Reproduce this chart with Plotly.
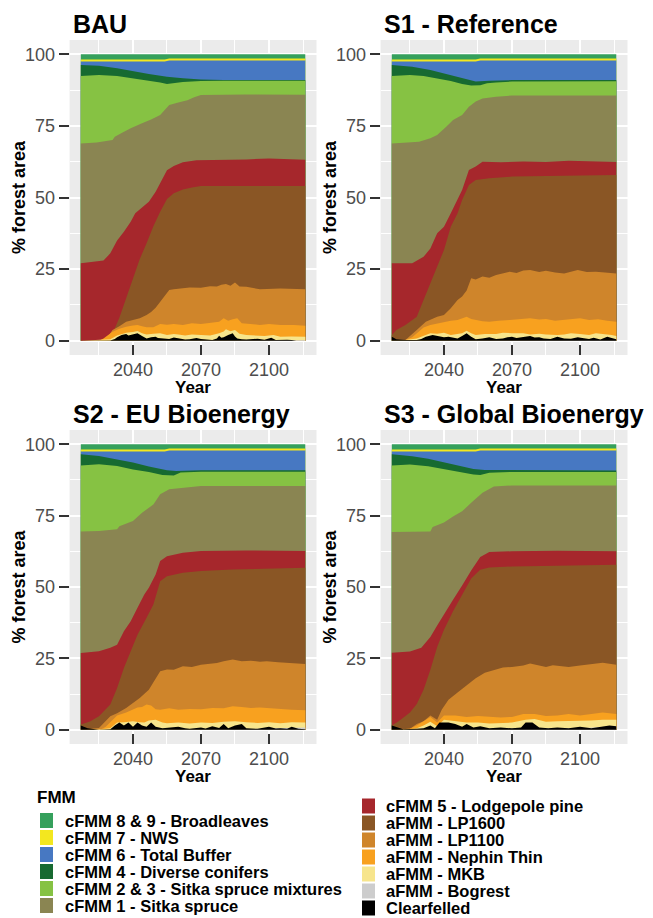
import plotly.graph_objects as go

# ---------------- data ----------------
SERIES = ["cFMM 8 & 9 - Broadleaves", "cFMM 7 - NWS", "cFMM 6 - Total Buffer",
          "cFMM 4 - Diverse conifers", "cFMM 2 & 3 - Sitka spruce mixtures",
          "cFMM 1 - Sitka spruce", "cFMM 5 - Lodgepole pine", "aFMM - LP1600",
          "aFMM - LP1100", "aFMM - Nephin Thin", "aFMM - MKB", "aFMM - Bogrest",
          "Clearfelled"]
COLORS = ["#35A05C", "#F3E71F", "#4778C2", "#176A31", "#86C243", "#8A8552",
          "#A6272C", "#8A5625", "#CF852B", "#F8A11F", "#F7E58C", "#CDCDCD", "#000000"]
SCENARIOS = ["BAU", "S1 - Reference", "S2 - EU Bioenergy", "S3 - Global Bioenergy"]
X_TICKS = [2040, 2070, 2100]
Y_TICKS = [0, 25, 50, 75, 100]

# cumulative top (% forest area) of each stacked layer, as (year, value)
BROAD_TOP = [(2017, 100), (2116, 100)]
NWS_TOP = [(2017, 98.2), (2054, 98.2), (2056, 98.5), (2116, 98.5)]
BUFFER_TOP = [(2017, 97.5), (2054, 97.5), (2056, 97.8), (2116, 97.8)]

BAU_DIVERSE = [(2017, 96.3), (2025, 96.0), (2033, 95.1), (2040, 94.0), (2047, 93.1), (2055, 92.2),
               (2062, 91.6), (2070, 91.2), (2080, 91.0), (2116, 91.0)]
BAU_MIXTURES = [(2017, 92.4), (2025, 92.8), (2033, 92.4), (2040, 91.6), (2047, 91.0), (2052, 90.2),
                (2055, 89.6), (2058, 89.9), (2062, 90.3), (2070, 90.7), (2080, 90.8), (2116, 90.8)]
BAU_SITKA = [(2017, 68.9), (2024, 69.2), (2031, 70.1), (2032, 71.2), (2035, 72.5), (2039, 74.2),
             (2044, 75.9), (2048, 77.2), (2052, 78.8), (2054, 80.5), (2056, 82.3), (2060, 83.2),
             (2064, 84.0), (2067, 85.0), (2070, 85.8), (2090, 86.0), (2116, 85.9)]
BAU_LODGE = [(2017, 27.0), (2027, 28.0), (2030, 30.5), (2033, 35.0), (2036, 38.0), (2039, 41.5),
             (2041, 44.5), (2044, 46.5), (2047, 48.5), (2050, 52.0), (2053, 56.5), (2055, 59.5),
             (2058, 61.0), (2062, 62.3), (2068, 63.0), (2080, 63.1), (2090, 63.3), (2100, 63.6),
             (2116, 63.2)]
BAU_LP1600 = [(2017, 0), (2026, 0), (2029, 0.5), (2031, 2.5), (2034, 8), (2037, 15), (2040, 22),
              (2043, 28.5), (2046, 34), (2049, 40), (2052, 45), (2055, 49.5), (2058, 51.5),
              (2062, 52.8), (2066, 53.5), (2070, 54.0), (2116, 54.0)]
BAU_LP1100 = [(2017, 0), (2026, 0), (2029, 1.5), (2031, 3.7), (2034, 5.0), (2037, 6.6), (2040, 7.2),
              (2043, 7.8), (2046, 9.0), (2048, 10.0), (2050, 11.5), (2052, 13.6), (2054, 15.8),
              (2056, 17.7), (2058, 18.0), (2061, 18.3), (2065, 18.6), (2070, 18.5), (2074, 19.0),
              (2077, 18.9), (2079, 19.5), (2081, 19.8), (2083, 19.2), (2085, 20.3), (2087, 18.9),
              (2090, 18.8), (2096, 18.0), (2105, 18.2), (2116, 18.0)]
BAU_NEPHIN = [(2017, 0), (2025, 0), (2027, 0.8), (2029, 2.0), (2031, 3.1), (2034, 4.2), (2037, 4.9),
              (2040, 5.3), (2042, 5.5), (2044, 5.0), (2046, 4.7), (2049, 4.7), (2052, 5.8), (2055, 5.6),
              (2058, 5.8), (2062, 5.5), (2066, 6.1), (2070, 5.8), (2074, 6.2), (2078, 6.6), (2080, 7.8),
              (2082, 7.0), (2084, 7.5), (2086, 7.8), (2088, 6.1), (2092, 5.8), (2096, 5.5), (2100, 5.8),
              (2105, 5.5), (2111, 5.5), (2116, 5.2)]
BAU_MKB = [(2017, 0), (2027, 0.2), (2030, 0.5), (2033, 1.8), (2035, 2.4), (2037, 2.8), (2040, 3.0),
           (2042, 3.4), (2044, 2.6), (2046, 2.2), (2049, 2.4), (2052, 2.6), (2055, 2.0), (2058, 2.3),
           (2060, 2.2), (2063, 1.8), (2066, 2.2), (2070, 2.0), (2074, 1.8), (2078, 2.6), (2080, 3.2),
           (2081, 4.0), (2083, 3.3), (2085, 3.7), (2087, 2.4), (2090, 2.0), (2094, 1.8), (2098, 1.6),
           (2102, 2.0), (2105, 1.4), (2110, 1.5), (2116, 1.4)]
BAU_BOGREST = [(2017, 0.0), (2116, 0.2)]
BAU_CLEAR = [(2017, 0.0), (2030, 0.1), (2032, 0.6), (2033, 1.2), (2035, 2.0), (2037, 2.3), (2038, 1.8),
             (2040, 2.2), (2042, 2.6), (2044, 1.6), (2046, 0.8), (2048, 1.2), (2050, 1.4), (2051, 0.9),
             (2053, 0.8), (2056, 0.6), (2058, 1.1), (2060, 0.8), (2063, 0.4), (2065, 0.5), (2068, 0.9),
             (2070, 0.6), (2073, 0.3), (2075, 0.2), (2077, 0.8), (2078, 1.7), (2079, 1.0), (2080, 1.2),
             (2082, 2.0), (2084, 2.6), (2085, 1.5), (2086, 0.8), (2088, 0.5), (2090, 0.4), (2093, 0.6),
             (2095, 0.7), (2098, 0.3), (2100, 0.7), (2101, 1.0), (2103, 0.2), (2106, 0.4), (2108, 0.3),
             (2110, 0.2), (2112, 0.0), (2116, 0.0)]

S1_DIVERSE = [(2017, 96.3), (2026, 95.7), (2034, 94.5), (2041, 93.1), (2048, 91.6), (2054, 90.5),
              (2060, 90.8), (2070, 91.0), (2116, 91.0)]
S1_MIXTURES = [(2017, 92.4), (2025, 92.8), (2031, 92.4), (2037, 91.6), (2043, 90.7), (2048, 89.6),
               (2052, 89.1), (2056, 89.2), (2059, 89.9), (2063, 90.2), (2070, 90.5), (2116, 90.6)]
S1_SITKA = [(2017, 68.9), (2029, 69.5), (2034, 70.7), (2037, 71.8), (2041, 74.7), (2044, 77.1),
            (2048, 78.8), (2051, 81.7), (2054, 83.5), (2057, 84.6), (2063, 85.2), (2070, 85.6),
            (2116, 85.6)]
S1_LODGE = [(2017, 27.0), (2026, 27.0), (2031, 29.3), (2034, 32.2), (2037, 37.5), (2040, 39.8),
            (2043, 44.5), (2046, 49.1), (2048, 52.6), (2051, 59.6), (2054, 60.8), (2057, 62.5),
            (2065, 62.3), (2075, 62.6), (2085, 62.4), (2095, 62.8), (2105, 62.5), (2116, 62.4)]
S1_LP1600 = [(2017, 2.0), (2019, 3.7), (2023, 5.5), (2028, 8.4), (2031, 14.2), (2034, 20.0),
             (2037, 25.8), (2040, 31.7), (2043, 39.8), (2046, 44.5), (2048, 49.1), (2051, 54.4),
             (2054, 56.1), (2060, 56.7), (2070, 57.3), (2085, 57.5), (2100, 57.7), (2116, 57.9)]
S1_LP1100 = [(2017, 0), (2023, 0.2), (2028, 3.7), (2032, 6.6), (2037, 8.4), (2040, 9.0), (2043, 11.3),
             (2046, 14.2), (2048, 15.4), (2050, 17.5), (2052, 21.8), (2054, 21.4), (2057, 22.4),
             (2060, 22.0), (2063, 22.9), (2066, 23.5), (2069, 24.1), (2072, 23.6), (2075, 24.5),
             (2078, 24.7), (2082, 24.0), (2085, 24.4), (2089, 23.8), (2093, 23.5), (2096, 24.2),
             (2099, 24.7), (2103, 24.0), (2107, 24.1), (2111, 23.8), (2116, 23.5)]
S1_NEPHIN = [(2017, 0), (2023, 0.2), (2026, 1.2), (2028, 2.5), (2031, 4.6), (2034, 5.5), (2037, 6.0),
             (2040, 6.6), (2043, 7.0), (2046, 7.2), (2048, 7.8), (2050, 8.4), (2052, 7.6), (2054, 7.2),
             (2057, 6.8), (2060, 6.6), (2064, 7.0), (2069, 7.2), (2074, 7.5), (2078, 7.8), (2082, 7.4),
             (2085, 7.6), (2089, 7.0), (2093, 7.2), (2097, 7.6), (2100, 7.8), (2104, 7.2), (2108, 7.5),
             (2112, 7.0), (2116, 6.6)]
S1_MKB = [(2017, 0.3), (2023, 0.2), (2028, 0.8), (2031, 1.8), (2034, 2.6), (2037, 2.4), (2040, 2.8),
          (2043, 2.0), (2046, 2.4), (2048, 2.6), (2050, 3.5), (2052, 2.6), (2054, 2.0), (2058, 2.3),
          (2063, 2.3), (2066, 2.8), (2070, 2.6), (2075, 2.6), (2078, 2.2), (2082, 2.4), (2085, 2.2),
          (2090, 2.0), (2093, 2.2), (2096, 2.6), (2100, 2.3), (2104, 2.0), (2107, 2.6), (2111, 2.4),
          (2114, 2.0), (2116, 1.6)]
S1_BOGREST = [(2017, 0.0), (2100, 0.2), (2116, 0.5)]
S1_CLEAR = [(2017, 1.4), (2018, 1.0), (2019, 0.5), (2023, 0.2), (2028, 0.2), (2030, 0.6), (2032, 1.4),
            (2035, 2.0), (2037, 1.6), (2040, 1.2), (2042, 1.4), (2044, 1.0), (2046, 0.8), (2048, 1.6),
            (2050, 2.6), (2052, 1.4), (2054, 0.5), (2057, 0.8), (2060, 1.2), (2063, 0.6), (2066, 0.8),
            (2068, 1.2), (2070, 1.4), (2072, 0.9), (2075, 1.2), (2078, 1.6), (2080, 1.1), (2082, 1.2),
            (2084, 0.8), (2087, 0.6), (2090, 1.4), (2093, 0.8), (2096, 0.7), (2099, 1.2), (2101, 0.9),
            (2104, 0.6), (2106, 1.0), (2109, 0.4), (2112, 1.4), (2114, 1.0), (2116, 0.5)]

S2_DIVERSE = [(2017, 96.5), (2025, 95.9), (2033, 94.7), (2040, 93.6), (2047, 92.2), (2055, 90.9),
              (2059, 90.6), (2070, 90.9), (2116, 90.9)]
S2_MIXTURES = [(2017, 92.6), (2025, 93.0), (2033, 92.4), (2040, 91.2), (2047, 90.3), (2053, 89.2),
               (2058, 89.1), (2061, 90.1), (2070, 90.4), (2116, 90.4)]
S2_SITKA = [(2017, 69.4), (2025, 69.6), (2033, 70.2), (2034, 71.3), (2040, 73.1), (2044, 76.0),
            (2049, 78.9), (2052, 82.5), (2056, 84.2), (2062, 84.8), (2070, 85.4), (2116, 85.4)]
S2_LODGE = [(2017, 26.9), (2025, 27.5), (2030, 28.7), (2033, 29.8), (2036, 34.5), (2039, 38.0),
            (2042, 42.7), (2045, 47.4), (2047, 49.7), (2050, 54.4), (2052, 59.1), (2055, 60.8),
            (2062, 62.0), (2070, 62.6), (2090, 62.8), (2116, 62.6)]
S2_LP1600 = [(2017, 1.8), (2021, 2.9), (2025, 4.7), (2030, 8.8), (2033, 14.6), (2036, 21.6),
             (2039, 27.5), (2042, 33.3), (2046, 39.2), (2049, 43.9), (2052, 52.0), (2055, 53.8),
             (2062, 55.0), (2070, 55.6), (2084, 56.1), (2116, 56.7)]
S2_LP1100 = [(2017, 0), (2025, 0.6), (2030, 4.7), (2033, 5.8), (2037, 7.6), (2040, 9.4), (2043, 11.1),
             (2047, 14.0), (2050, 18.1), (2052, 20.5), (2055, 21.1), (2058, 21.0), (2062, 22.2),
             (2066, 22.0), (2070, 22.8), (2074, 23.2), (2077, 23.4), (2080, 24.0), (2084, 24.6),
             (2088, 24.0), (2092, 24.2), (2096, 23.8), (2099, 24.0), (2104, 23.6), (2108, 23.4),
             (2112, 23.2), (2116, 23.0)]
S2_NEPHIN = [(2017, 0), (2026, 0.2), (2028, 1.0), (2030, 2.5), (2033, 5.0), (2037, 6.0), (2040, 7.0),
             (2042, 7.8), (2044, 8.0), (2046, 8.8), (2048, 8.5), (2050, 7.2), (2052, 7.0), (2056, 7.5),
             (2060, 7.0), (2065, 7.3), (2070, 7.2), (2075, 7.6), (2080, 7.5), (2084, 8.2), (2088, 8.0),
             (2092, 7.6), (2096, 7.8), (2100, 7.5), (2105, 7.2), (2110, 7.0), (2116, 6.8)]
S2_MKB = [(2017, 0.2), (2026, 0.2), (2030, 0.5), (2033, 2.5), (2036, 2.6), (2040, 3.0), (2043, 2.6),
          (2045, 2.5), (2047, 3.2), (2050, 3.5), (2053, 2.5), (2055, 2.3), (2060, 2.5), (2065, 2.2),
          (2070, 2.5), (2075, 2.4), (2080, 2.8), (2085, 3.0), (2090, 2.6), (2095, 2.4), (2100, 2.6),
          (2105, 2.3), (2110, 2.6), (2116, 2.5)]
S2_BOGREST = [(2017, 0.0), (2095, 0.3), (2116, 0.8)]
S2_CLEAR = [(2017, 1.5), (2019, 1.0), (2020, 0.5), (2025, 0.0), (2030, 0.2), (2032, 1.5), (2034, 2.5),
            (2036, 1.5), (2038, 2.5), (2040, 1.0), (2042, 2.5), (2044, 1.5), (2046, 1.0), (2048, 2.5),
            (2050, 1.0), (2053, 0.5), (2056, 0.8), (2060, 1.0), (2063, 0.5), (2065, 0.3), (2070, 0.8),
            (2072, 0.4), (2075, 1.2), (2078, 0.6), (2080, 2.0), (2082, 0.5), (2085, 1.5), (2088, 2.0),
            (2090, 0.5), (2095, 0.3), (2100, 1.0), (2103, 0.4), (2105, 0.5), (2108, 0.3), (2110, 1.0),
            (2113, 0.3), (2116, 0.2)]

S3_DIVERSE = [(2017, 96.5), (2026, 95.8), (2033, 94.9), (2040, 93.7), (2047, 92.5), (2053, 91.3),
              (2058, 91.0), (2116, 90.8)]
S3_MIXTURES = [(2017, 92.6), (2025, 92.9), (2033, 92.3), (2040, 91.3), (2047, 90.2), (2053, 89.4),
               (2056, 89.2), (2060, 90.0), (2070, 90.3), (2116, 90.3)]
S3_SITKA = [(2017, 69.3), (2034, 69.4), (2035, 71.0), (2040, 72.6), (2044, 74.7), (2048, 76.5),
            (2052, 79.5), (2057, 83.0), (2062, 85.2), (2070, 85.6), (2116, 85.6)]
S3_LODGE = [(2017, 27.0), (2025, 27.4), (2030, 28.7), (2034, 32.5), (2037, 36.5), (2040, 40.5),
            (2044, 45.5), (2048, 50.5), (2052, 55.8), (2056, 60.5), (2060, 62.3), (2070, 62.5),
            (2090, 62.7), (2116, 62.5)]
S3_LP1600 = [(2017, 1.5), (2020, 3.0), (2025, 6.0), (2028, 9.0), (2031, 14.0), (2034, 21.0),
             (2037, 29.0), (2040, 35.0), (2044, 41.5), (2048, 47.5), (2052, 53.0), (2056, 56.0),
             (2060, 56.8), (2070, 57.2), (2090, 57.5), (2116, 57.8)]
S3_LP1100 = [(2017, 0), (2025, 0.3), (2028, 2.0), (2031, 3.0), (2034, 5.0), (2036, 4.0), (2037, 3.5),
             (2039, 7.0), (2042, 10.5), (2046, 13.0), (2050, 15.5), (2054, 18.0), (2058, 20.0),
             (2062, 21.0), (2066, 21.8), (2070, 22.0), (2075, 22.5), (2078, 23.2), (2080, 22.8),
             (2085, 22.0), (2088, 22.6), (2090, 22.5), (2095, 22.0), (2100, 22.5), (2105, 23.0),
             (2110, 23.5), (2116, 22.8)]
S3_NEPHIN = [(2017, 0), (2025, 0.3), (2028, 1.5), (2031, 3.0), (2034, 4.5), (2037, 2.5), (2040, 5.0),
             (2045, 5.0), (2050, 4.5), (2055, 4.8), (2060, 4.5), (2065, 4.3), (2070, 4.5), (2075, 5.5),
             (2080, 5.5), (2085, 4.8), (2090, 5.0), (2095, 5.5), (2100, 5.0), (2105, 5.5), (2110, 6.0),
             (2116, 5.5)]
S3_MKB = [(2017, 0.2), (2025, 0.2), (2028, 0.5), (2031, 1.5), (2034, 2.8), (2037, 1.2), (2040, 3.5),
          (2045, 3.0), (2050, 2.5), (2055, 2.5), (2060, 2.2), (2070, 2.5), (2076, 3.5), (2080, 3.8),
          (2085, 2.8), (2090, 3.0), (2100, 3.0), (2105, 3.2), (2110, 3.5), (2116, 3.5)]
S3_BOGREST = [(2017, 0.0), (2100, 0.5), (2116, 1.2)]
S3_CLEAR = [(2017, 1.5), (2019, 1.0), (2022, 0.2), (2028, 0.3), (2031, 0.5), (2034, 1.5), (2036, 0.5),
            (2038, 2.5), (2042, 2.5), (2045, 2.0), (2048, 1.0), (2050, 2.0), (2053, 0.8), (2056, 1.2),
            (2060, 0.5), (2065, 0.8), (2070, 0.5), (2074, 0.8), (2076, 2.5), (2079, 2.5), (2082, 0.8),
            (2086, 0.5), (2090, 0.8), (2095, 0.5), (2100, 1.0), (2105, 0.5), (2110, 1.0), (2113, 1.5),
            (2116, 1.2)]

BAU_LAYERS = [BROAD_TOP, NWS_TOP, BUFFER_TOP, BAU_DIVERSE, BAU_MIXTURES, BAU_SITKA, BAU_LODGE,
              BAU_LP1600, BAU_LP1100, BAU_NEPHIN, BAU_MKB, BAU_BOGREST, BAU_CLEAR]
S1_LAYERS = [BROAD_TOP, NWS_TOP, BUFFER_TOP, S1_DIVERSE, S1_MIXTURES, S1_SITKA, S1_LODGE,
             S1_LP1600, S1_LP1100, S1_NEPHIN, S1_MKB, S1_BOGREST, S1_CLEAR]
S2_LAYERS = [BROAD_TOP, NWS_TOP, BUFFER_TOP, S2_DIVERSE, S2_MIXTURES, S2_SITKA, S2_LODGE,
             S2_LP1600, S2_LP1100, S2_NEPHIN, S2_MKB, S2_BOGREST, S2_CLEAR]
S3_LAYERS = [BROAD_TOP, NWS_TOP, BUFFER_TOP, S3_DIVERSE, S3_MIXTURES, S3_SITKA, S3_LODGE,
             S3_LP1600, S3_LP1100, S3_NEPHIN, S3_MKB, S3_BOGREST, S3_CLEAR]
ALL_LAYERS = [BAU_LAYERS, S1_LAYERS, S2_LAYERS, S3_LAYERS]

# ---------------- layout (screen pixels) ----------------
PAGE_MARGIN = 8            # default body margin of the html page
W, H = 653 - PAGE_MARGIN, 918 - PAGE_MARGIN
FONT = "Liberation Sans, Arial, Helvetica, sans-serif"
PANEL_X = [(69.6, 316.5), (380.6, 627.5), (69.6, 316.5), (380.6, 627.5)]
PANEL_Y = [(40, 355), (40, 355), (430, 744), (430, 744)]


def px(x):
    return (x - PAGE_MARGIN) / W


def py(y):
    return 1 - (y - PAGE_MARGIN) / H


fig = go.Figure()
for i, layers in enumerate(ALL_LAYERS):
    sfx = "" if i == 0 else str(i + 1)
    for name, color, pts in zip(SERIES, COLORS, layers):
        fig.add_trace(go.Scatter(
            x=[p[0] for p in pts], y=[p[1] for p in pts], mode="lines",
            line=dict(width=0, color=color), fill="tozeroy", fillcolor=color,
            name=name, showlegend=False, hoverinfo="skip",
            xaxis="x" + sfx, yaxis="y" + sfx))

layout = dict(width=W, height=H, margin=dict(l=0, r=0, t=0, b=0),
              paper_bgcolor="white", plot_bgcolor="#EBEBEB", showlegend=False,
              font=dict(family=FONT))
annotations = []
shapes = []
for i in range(4):
    sfx = "" if i == 0 else str(i + 1)
    x0, x1 = PANEL_X[i]
    y0, y1 = PANEL_Y[i]
    layout["xaxis" + sfx] = dict(
        domain=[px(x0), px(x1)], range=[2012.05, 2120.95], anchor="y" + sfx,
        tickmode="array", tickvals=X_TICKS, ticks="inside", ticklen=10, tickwidth=2,
        tickcolor="#333333", showgrid=True, gridcolor="white", gridwidth=2,
        zeroline=False, showline=False, ticklabelstandoff=2,
        tickfont=dict(size=18, color="#4D4D4D", family=FONT),
        minor=dict(tickvals=[2025, 2055, 2085, 2115], showgrid=True, gridcolor="white",
                   gridwidth=1, ticks=""))
    layout["yaxis" + sfx] = dict(
        domain=[py(y1), py(y0)], range=[-5, 105], anchor="x" + sfx,
        tickmode="array", tickvals=Y_TICKS, ticks="outside", ticklen=10, tickwidth=2,
        tickcolor="#333333", showgrid=True, gridcolor="white", gridwidth=2,
        zeroline=False, showline=False,
        tickfont=dict(size=18, color="#4D4D4D", family=FONT),
        minor=dict(tickvals=[12.5, 37.5, 62.5, 87.5], showgrid=True, gridcolor="white",
                   gridwidth=1, ticks=""))
    # panel title
    annotations.append(dict(text="<b>%s</b>" % SCENARIOS[i], x=px(x0 + 1), y=py(y0 - 16),
                            xref="paper", yref="paper", xanchor="left", yanchor="middle",
                            showarrow=False, font=dict(size=25, color="black", family=FONT)))
    # axis titles
    annotations.append(dict(text="<b>Year</b>", x=px((x0 + x1) / 2), y=py(y1 + 32),
                            xref="paper", yref="paper", xanchor="center", yanchor="middle",
                            showarrow=False, font=dict(size=17, color="black", family=FONT)))
    annotations.append(dict(text="<b>% forest area</b>", x=px(x0 - 51), y=py((y0 + y1) / 2),
                            xref="paper", yref="paper", xanchor="center", yanchor="middle",
                            textangle=-90, showarrow=False,
                            font=dict(size=18, color="black", family=FONT)))

# legend (two columns, drawn manually)
annotations.append(dict(text="<b>FMM</b>", x=px(35), y=py(797), xref="paper", yref="paper",
                        xanchor="left", yanchor="middle", showarrow=False,
                        font=dict(size=17, color="black", family=FONT)))
col_spec = [(0, 6, 40, 62.5, 820.5), (6, 13, 362, 384, 806)]
for start, stop, kx, tx, ty0 in col_spec:
    for r, k in enumerate(range(start, stop)):
        cy = ty0 + r * 17.0
        shapes.append(dict(type="rect", xref="paper", yref="paper",
                           x0=px(kx), x1=px(kx + 13), y0=py(cy + 7.5), y1=py(cy - 7.5),
                           fillcolor=COLORS[k], line=dict(width=0)))
        annotations.append(dict(text="<b>%s</b>" % SERIES[k], x=px(tx), y=py(cy),
                                xref="paper", yref="paper", xanchor="left", yanchor="middle",
                                showarrow=False, font=dict(size=16.5, color="black", family=FONT)))

layout["annotations"] = annotations
layout["shapes"] = shapes
fig.update_layout(**layout)
fig.write_html("out.html")
